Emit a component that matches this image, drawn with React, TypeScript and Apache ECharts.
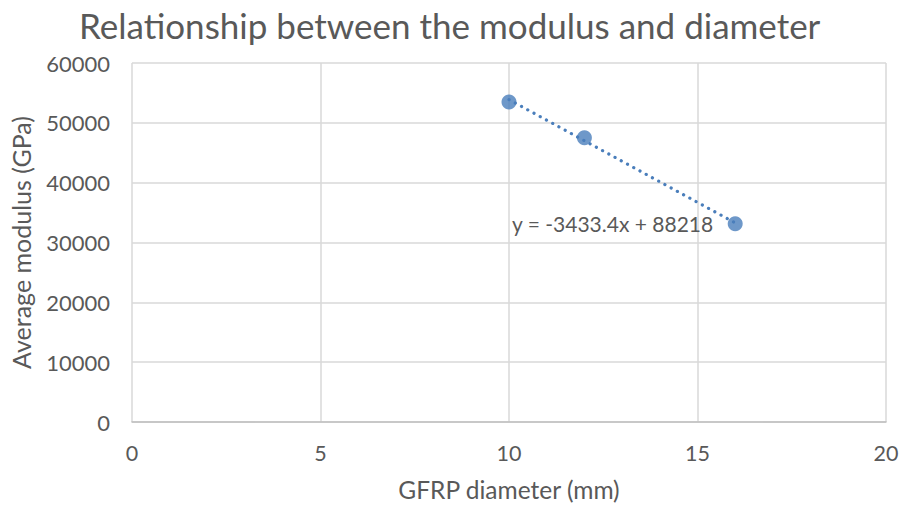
import React, { useEffect, useRef } from "react";
import * as echarts from "echarts";

const diameters = [10, 12, 16];
const moduli = [53500, 47500, 33150];
// Trendline endpoints (linear fit shown on chart)
const trendX = [10, 16];
const trendY = [53880, 33280];
const equationText = "y = -3433.4x + 88218";
const xTicks = [0, 5, 10, 15, 20];
const yTicks = [0, 10000, 20000, 30000, 40000, 50000, 60000];

const FONT = "Lato, 'Open Sans', sans-serif";
const TEXT = "#595959";
const BLUE = "#4a7ebb";

export default function App() {
  const ref = useRef<HTMLDivElement>(null);
  useEffect(() => {
    if (!ref.current) return;
    const chart = echarts.init(ref.current, undefined, { renderer: "svg" });
    chart.setOption({
      animation: false,
      backgroundColor: "#ffffff",
      textStyle: { fontFamily: FONT },
      title: {
        text: "Relationship between the modulus and diameter",
        left: 74,
        top: 2,
        textStyle: { fontFamily: FONT, fontSize: 35, fontWeight: "normal", color: TEXT },
      },
      grid: { left: 130, right: 22, top: 63, bottom: 86, containLabel: false },
      xAxis: {
        type: "value",
        min: xTicks[0],
        max: xTicks[xTicks.length - 1],
        interval: 5,
        name: "GFRP diameter (mm)",
        nameLocation: "middle",
        nameGap: 55,
        nameTextStyle: { fontFamily: FONT, fontSize: 24.5, color: TEXT },
        axisLine: { lineStyle: { color: "#bfbfbf", width: 1.5 } },
        axisTick: { show: false },
        axisLabel: { margin: 20, fontFamily: FONT, fontSize: 21.5, color: TEXT, formatter: (v: number) => String(v) },
        splitLine: { lineStyle: { color: "#d9d9d9", width: 1.5 } },
      },
      yAxis: {
        type: "value",
        min: yTicks[0],
        max: yTicks[yTicks.length - 1],
        interval: 10000,
        name: "Average modulus (GPa)",
        nameLocation: "middle",
        nameGap: 99,
        nameTextStyle: { fontFamily: FONT, fontSize: 25, color: TEXT },
        axisLine: { show: false },
        axisTick: { show: false },
        axisLabel: { margin: 22, fontFamily: FONT, fontSize: 22, color: TEXT, formatter: (v: number) => String(v) },
        splitLine: { lineStyle: { color: "#d9d9d9", width: 1.5 } },
      },
      series: [
        {
          type: "line",
          data: trendX.map((x, i) => [x, trendY[i]]),
          showSymbol: false,
          symbol: "none",
          lineStyle: { color: BLUE, width: 3.2, type: [0.1, 7], cap: "round" },
          silent: true,
          z: 2,
          markPoint: {
            symbol: "rect",
            symbolSize: 0,
            data: [
              {
                coord: [trendX[0], 33100],
                label: {
                  show: true,
                  formatter: equationText,
                  position: "right",
                  distance: 3,
                  fontFamily: FONT,
                  fontSize: 21,
                  color: TEXT,
                },
              },
            ],
          },
        },
        {
          type: "scatter",
          data: diameters.map((d, i) => [d, moduli[i]]),
          symbol: "circle",
          symbolSize: 15,
          itemStyle: { color: BLUE },
          z: 3,
        },
      ],
    });
    return () => chart.dispose();
  }, []);
  return (
    <div
      ref={ref}
      style={{ position: "fixed", left: 0, top: 0, width: 908, height: 508 }}
    />
  );
}
